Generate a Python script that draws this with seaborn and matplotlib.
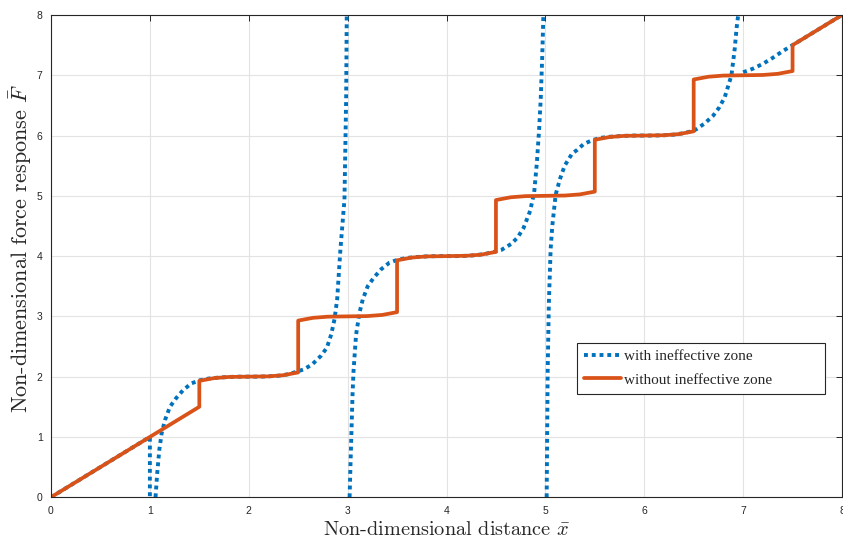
import matplotlib
matplotlib.use("Agg")
import matplotlib.pyplot as plt
from matplotlib.lines import Line2D
import numpy as np
import pandas as pd
import seaborn as sns

# ---- response without the ineffective zone: ramp, stepped plateaus, ramp ----
orange_x = [0.0, 1.5,
            1.5, 1.65, 1.8, 2.0, 2.2, 2.35, 2.5,
            2.5, 2.65, 2.8, 3.0, 3.2, 3.35, 3.5,
            3.5, 3.65, 3.8, 4.0, 4.2, 4.35, 4.5,
            4.5, 4.65, 4.8, 5.0, 5.2, 5.35, 5.5,
            5.5, 5.65, 5.8, 6.0, 6.2, 6.35, 6.5,
            6.5, 6.65, 6.8, 7.0, 7.2, 7.35, 7.5,
            7.5, 8.0]
orange_y = [0.0, 1.5,
            1.93, 1.976, 1.995, 2.0, 2.005, 2.024, 2.07,
            2.93, 2.976, 2.995, 3.0, 3.005, 3.024, 3.07,
            3.93, 3.976, 3.995, 4.0, 4.005, 4.024, 4.07,
            4.93, 4.976, 4.995, 5.0, 5.005, 5.024, 5.07,
            5.93, 5.976, 5.995, 6.0, 6.005, 6.024, 6.07,
            6.93, 6.976, 6.995, 7.0, 7.005, 7.024, 7.07,
            7.5, 8.0]

# ---- response with the ineffective zone, one list per branch ----
blue_ramp_x = [0.0, 1.0, 1.0]
blue_ramp_y = [0.0, 1.0, 0.0]

blue_b1_x = [1.057, 1.074, 1.095, 1.119, 1.153, 1.203, 1.264, 1.338, 1.422, 1.506,
             1.6, 1.7, 1.8, 1.9, 2.0, 2.1, 2.2, 2.3, 2.4, 2.48, 2.555, 2.64,
             2.733, 2.79, 2.834, 2.867, 2.894, 2.927, 2.968, 2.985, 2.991]
blue_b1_y = [0.0, 0.39, 0.78, 1.06, 1.28, 1.50, 1.64, 1.78, 1.89, 1.94,
             1.97, 1.985, 1.995, 2.0, 2.0, 2.0, 2.005, 2.015, 2.04, 2.08, 2.12, 2.20,
             2.35, 2.48, 2.70, 2.95, 3.28, 4.11, 4.94, 6.6, 8.0]

blue_b2_x = [3.02, 3.03, 3.04, 3.05, 3.06, 3.085, 3.12, 3.153, 3.203, 3.264, 3.338,
             3.422, 3.506, 3.6, 3.7, 3.8, 3.9, 4.0, 4.1, 4.2, 4.3, 4.4, 4.48,
             4.552, 4.653, 4.72, 4.78, 4.813, 4.846, 4.887, 4.914, 4.937, 4.953,
             4.968, 4.98]
blue_b2_y = [0.0, 0.6, 1.15, 1.72, 2.1, 2.69, 3.06, 3.28, 3.50, 3.64, 3.78,
             3.89, 3.94, 3.97, 3.985, 3.995, 4.0, 4.0, 4.0, 4.005, 4.015, 4.04, 4.07,
             4.10, 4.20, 4.31, 4.47, 4.61, 4.75, 5.06, 5.55, 6.11, 6.61,
             7.3, 8.0]

blue_b3_x = [5.013, 5.023, 5.035, 5.053, 5.07, 5.104, 5.148, 5.195, 5.27, 5.32,
             5.388, 5.47, 5.55, 5.65, 5.8, 5.9, 6.0, 6.1, 6.2, 6.3, 6.4, 6.5,
             6.53, 6.61, 6.697, 6.76, 6.815, 6.882, 6.915, 6.935, 6.95]
blue_b3_y = [0.0, 2.06, 3.2, 4.11, 4.5, 5.02, 5.28, 5.50, 5.70, 5.76,
             5.86, 5.92, 5.96, 5.98, 5.995, 6.0, 6.0, 6.0, 6.005, 6.015, 6.04, 6.08,
             6.11, 6.2, 6.33, 6.47, 6.64, 7.0, 7.44, 7.8, 8.0]

blue_b4_x = [7.0, 7.1, 7.2, 7.3, 7.4, 7.5, 8.0]
blue_b4_y = [7.05, 7.11, 7.19, 7.29, 7.40, 7.5, 8.0]

x_ticks = [0, 1, 2, 3, 4, 5, 6, 7, 8]
y_ticks = [0, 1, 2, 3, 4, 5, 6, 7, 8]

series_labels = ["with ineffective zone", "without ineffective zone"]
BLUE = "#0072BD"
ORANGE = "#D95319"

blue_df = pd.concat(
    [pd.DataFrame({"x": bx, "y": by, "branch": i})
     for i, (bx, by) in enumerate([(blue_ramp_x, blue_ramp_y),
                                   (blue_b1_x, blue_b1_y),
                                   (blue_b2_x, blue_b2_y),
                                   (blue_b3_x, blue_b3_y),
                                   (blue_b4_x, blue_b4_y)])],
    ignore_index=True)
orange_df = pd.DataFrame({"x": orange_x, "y": orange_y})

sns.set_style("white")
plt.rcParams["mathtext.fontset"] = "cm"
plt.rcParams["font.family"] = ["Liberation Sans", "DejaVu Sans"]

fig, ax = plt.subplots(figsize=(8.43, 5.43), dpi=100)
fig.subplots_adjust(left=51 / 843, right=842 / 843,
                    bottom=1 - 497.2 / 543, top=1 - 15 / 543)

dot_style = (0, (1, 1))
sns.lineplot(data=blue_df, x="x", y="y", units="branch", estimator=None,
             sort=False, color=BLUE, linewidth=2.8, linestyle=dot_style,
             legend=False, ax=ax)
sns.lineplot(data=orange_df, x="x", y="y", estimator=None, sort=False,
             color=ORANGE, linewidth=2.7, legend=False, ax=ax)
for ln in ax.lines[:-1]:
    ln.set_linestyle(dot_style)

ax.set_xlim(0, 8)
ax.set_ylim(0, 8)
ax.set_xticks(x_ticks)
ax.set_yticks(y_ticks)
ax.set_xticklabels([str(t) for t in x_ticks])
ax.set_yticklabels([str(t) for t in y_ticks])
ax.grid(True, color="#e3e3e3", linewidth=0.8)
ax.set_axisbelow(True)
ax.tick_params(direction="in", top=True, right=True, length=4, width=0.7,
               color="#262626", labelcolor="#262626", labelsize=7.5, pad=6)
for sp in ax.spines.values():
    sp.set_color("#262626")
    sp.set_linewidth(0.8)
    sp.set_visible(True)

ax.set_xlabel(r"Non-dimensional distance $\bar{x}$", fontfamily="cmr10",
              fontsize=14.6, labelpad=4, color="#262626")
ax.set_ylabel(r"Non-dimensional force response $\bar{F}$", fontfamily="cmr10",
              fontsize=15.9, labelpad=2, color="#262626", y=0.515)

handles = [Line2D([], [], color=BLUE, linewidth=2.8, linestyle=dot_style),
           Line2D([], [], color=ORANGE, linewidth=2.7)]
leg = ax.legend(handles, series_labels, loc="upper left",
                bbox_to_anchor=(0.665, 0.211, 0.3135, 0.109), mode="expand",
                prop={"family": "Liberation Serif", "size": 11},
                frameon=True, fancybox=False, framealpha=1, edgecolor="#262626",
                handlelength=2.4, handletextpad=0.25, borderpad=0.45,
                labelspacing=0.62, borderaxespad=0)
leg.get_frame().set_linewidth(0.8)

fig.savefig("out.png", dpi=100, facecolor="white")
